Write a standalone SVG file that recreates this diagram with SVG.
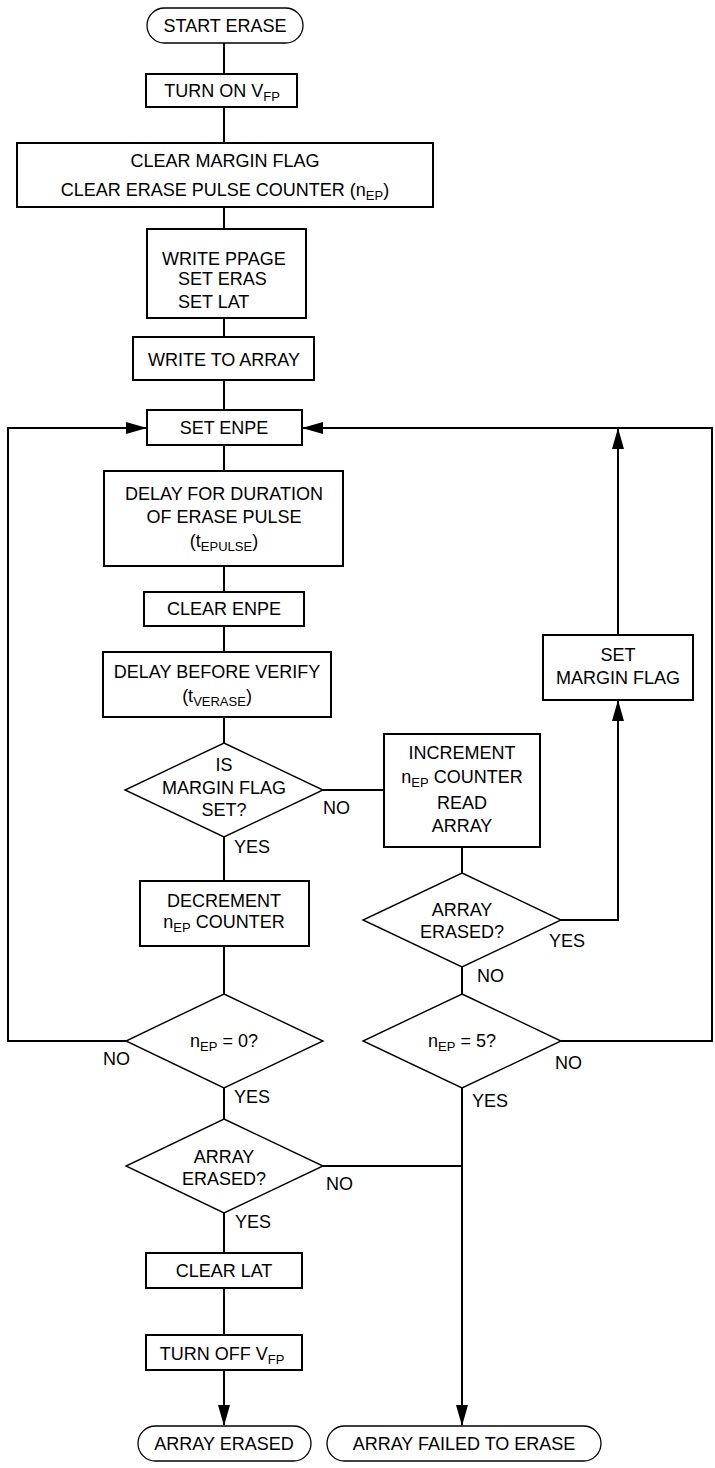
<svg xmlns="http://www.w3.org/2000/svg" width="715" height="1468" viewBox="0 0 715 1468">
<style>
text{font-family:"Liberation Sans",Arial,sans-serif;font-size:18px;fill:#000}
.c{text-anchor:middle}
.sub{font-size:13px}
.box{fill:#fff;stroke:#000;stroke-width:2}
.dia{fill:#fff;stroke:#000;stroke-width:1.4}
.term{fill:#fff;stroke:#000;stroke-width:1.3}
.ln{fill:none;stroke:#000;stroke-width:2}
</style>
<defs>
<marker id="ah" viewBox="0 0 21 12" refX="20" refY="6" markerWidth="21" markerHeight="12" markerUnits="userSpaceOnUse" orient="auto">
<path d="M0,0 L21,6 L0,12 z" fill="#000"/>
</marker>
</defs>
<g id="connectors">
<path class="ln" d="M224,43V74M224,107V143M224,207V229M224,318V337M224,380V410M224,445V471M224,566V592M224,626V652M224,717V743M224,837V881M224,946V994M224,1088V1119M224,1213V1253M224,1288V1335"/>
<path class="ln" d="M224,1370V1425" marker-end="url(#ah)"/>
<path class="ln" d="M126,1041H8V428H146" marker-end="url(#ah)"/>
<path class="ln" d="M561,1041H712V428H303" marker-end="url(#ah)"/>
<path class="ln" d="M323,790H384"/>
<path class="ln" d="M462,847V873"/>
<path class="ln" d="M561,920H618V701" marker-end="url(#ah)"/>
<path class="ln" d="M618,635V429" marker-end="url(#ah)"/>
<path class="ln" d="M462,967V994"/>
<path class="ln" d="M462,1088V1425" marker-end="url(#ah)"/>
<path class="ln" d="M323,1166H462"/>
</g>
<g id="start"><rect class="term" x="147" y="8" width="156" height="35" rx="17.5"/><text class="c" x="225" y="32">START ERASE</text></g>
<g id="turnon"><rect class="box" x="146" y="74" width="151" height="33"/><text class="c" x="222" y="97">TURN ON V<tspan class="sub" dy="4">FP</tspan></text></g>
<g id="clearmargin"><rect class="box" x="17" y="143" width="416" height="64"/><text class="c" x="225" y="167">CLEAR MARGIN FLAG</text><text class="c" x="225" y="196">CLEAR ERASE PULSE COUNTER (n<tspan class="sub" dy="4">EP</tspan><tspan dy="-4">)</tspan></text></g>
<g id="writeppage"><rect class="box" x="147" y="229" width="159" height="89"/><text x="162" y="265">WRITE PPAGE</text><text x="178" y="285">SET ERAS</text><text x="178" y="308">SET LAT</text></g>
<g id="writearray"><rect class="box" x="133" y="337" width="181" height="43"/><text class="c" x="224" y="366">WRITE TO ARRAY</text></g>
<g id="setenpe"><rect class="box" x="147" y="410" width="155" height="35"/><text class="c" x="224" y="434">SET ENPE</text></g>
<g id="delaypulse"><rect class="box" x="104" y="471" width="239" height="95"/><text class="c" x="224" y="500">DELAY FOR DURATION</text><text class="c" x="224" y="523">OF ERASE PULSE</text><text class="c" x="224" y="547">(t<tspan class="sub" dy="4">EPULSE</tspan><tspan dy="-4">)</tspan></text></g>
<g id="clearenpe"><rect class="box" x="144" y="592" width="160" height="34"/><text class="c" x="224" y="615">CLEAR ENPE</text></g>
<g id="delayverify"><rect class="box" x="103" y="652" width="228" height="65"/><text class="c" x="217" y="678">DELAY BEFORE VERIFY</text><text class="c" x="217" y="702">(t<tspan class="sub" dy="4">VERASE</tspan><tspan dy="-4">)</tspan></text></g>
<g id="ismargin"><polygon class="dia" points="224,743 323,790 224,837 125,790"/><text class="c" x="224" y="771">IS</text><text class="c" x="224" y="794">MARGIN FLAG</text><text class="c" x="224" y="816">SET?</text><text x="323" y="814">NO</text><text x="234" y="853">YES</text></g>
<g id="increment"><rect class="box" x="384" y="734" width="156" height="113"/><text class="c" x="462" y="759">INCREMENT</text><text class="c" x="462" y="783">n<tspan class="sub" dy="4">EP</tspan><tspan dy="-4"> COUNTER</tspan></text><text class="c" x="462" y="809">READ</text><text class="c" x="462" y="832">ARRAY</text></g>
<g id="setmargin"><rect class="box" x="543" y="635" width="150" height="65"/><text class="c" x="618" y="661">SET</text><text class="c" x="618" y="684">MARGIN FLAG</text></g>
<g id="decrement"><rect class="box" x="140" y="881" width="169" height="65"/><text class="c" x="224" y="907">DECREMENT</text><text class="c" x="224" y="928">n<tspan class="sub" dy="4">EP</tspan><tspan dy="-4"> COUNTER</tspan></text></g>
<g id="erased1"><polygon class="dia" points="462,873 561,920 462,967 363,920"/><text class="c" x="462" y="916">ARRAY</text><text class="c" x="462" y="938">ERASED?</text><text x="549" y="947">YES</text><text x="477" y="982">NO</text></g>
<g id="nep0"><polygon class="dia" points="224,994 323,1041 224,1088 126,1041"/><text class="c" x="224" y="1047">n<tspan class="sub" dy="4">EP</tspan><tspan dy="-4"> = 0?</tspan></text><text x="103" y="1065">NO</text><text x="234" y="1103">YES</text></g>
<g id="nep5"><polygon class="dia" points="462,994 561,1041 462,1088 363,1041"/><text class="c" x="462" y="1047">n<tspan class="sub" dy="4">EP</tspan><tspan dy="-4"> = 5?</tspan></text><text x="555" y="1069">NO</text><text x="472" y="1107">YES</text></g>
<g id="erased2"><polygon class="dia" points="224,1119 323,1166 224,1213 126,1166"/><text class="c" x="224" y="1163">ARRAY</text><text class="c" x="224" y="1185">ERASED?</text><text x="326" y="1190">NO</text><text x="235" y="1228">YES</text></g>
<g id="clearlat"><rect class="box" x="146" y="1253" width="156" height="35"/><text class="c" x="224" y="1277">CLEAR LAT</text></g>
<g id="turnoff"><rect class="box" x="146" y="1335" width="156" height="35"/><text class="c" x="222" y="1360">TURN OFF V<tspan class="sub" dy="4">FP</tspan></text></g>
<g id="arrayerased"><rect class="term" x="138" y="1426" width="173" height="35" rx="17.5"/><text class="c" x="224" y="1450">ARRAY ERASED</text></g>
<g id="arrayfailed"><rect class="term" x="327" y="1426" width="274" height="35" rx="17.5"/><text class="c" x="464" y="1450">ARRAY FAILED TO ERASE</text></g>
</svg>
